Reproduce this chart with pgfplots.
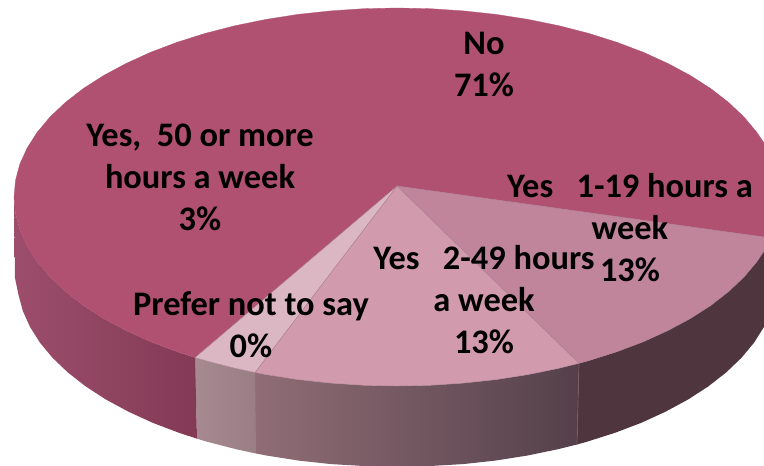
\documentclass[border=0pt]{standalone}
\usepackage{pgfplots}
\pgfplotsset{compat=1.18}
\usepackage{fontspec}
\setmainfont{Carlito}
\definecolor{mainc}{HTML}{B05172}
\definecolor{rightc}{HTML}{C0859A}
\definecolor{midc}{HTML}{D19BAD}
\definecolor{smallc}{HTML}{DBB7C4}
\definecolor{rimc}{HTML}{A97C8E}
\definecolor{wallr}{HTML}{4E353E}
\definecolor{wallma}{HTML}{906D76}
\definecolor{wallmb}{HTML}{54404A}
\definecolor{wallsa}{HTML}{A68991}
\definecolor{wallsb}{HTML}{9A7E85}
\definecolor{wallla}{HTML}{9C4E6B}
\definecolor{walllb}{HTML}{833A55}
\definecolor{sepc}{HTML}{7A5A65}
\tikzset{lab/.style={anchor=base, align=center, font=\fontsize{34.4}{42}\selectfont\bfseries, text=black, inner sep=0pt}}
\begin{document}
\begin{tikzpicture}
\begin{axis}[
  scale only axis, width=764pt, height=466pt,
  xmin=0, xmax=764, ymin=0, ymax=466, y dir=reverse,
  axis lines=none, clip mode=individual,
]
% frame that fixes the picture's extent
\addplot[draw=none, forget plot] coordinates {(0,0)(764,466)};
% side wall: Yes 1-19 hours
\addplot[draw=none, fill=wallr] coordinates {
(764,251)(756.9,261.6)(744.1,276.9)(728.7,291.5)(710.8,305.4)(690.4,318.5)(667.8,330.6)(643.2,341.8)(616.7,351.8)(588.5,360.7)(579,363.3)
(577,444.5)(587,441.7)(615,432.8)(641.3,422.8)(665.7,411.6)(688.1,399.5)(708.3,386.4)(726.1,372.5)(741.4,357.9)(754.1,342.6)(764,326.9)} -- cycle;
% side wall: Yes 2-49 hours
\addplot[draw=none, left color=wallma, right color=wallmb] coordinates {
(579,363.3)(558.9,368.3)(528,374.6)(496.1,379.6)(463.5,383.1)(430.4,385.3)(397,386)(363.6,385.3)(330.5,383.1)(297.9,379.6)(266,374.6)(255,372.5)
(256,453.5)(267,455.6)(298.7,460.6)(331,464.1)(363.9,466)(397,466)(430.1,466)(463,464.1)(495.3,460.6)(527,455.6)(557.6,449.3)(577,444.5)} -- cycle;
% side wall: Prefer not to say
\addplot[draw=none, left color=wallsa, right color=wallsb] coordinates {
(255,372.5)(235.1,368.3)(205.5,360.7)(195,357.6)(197,438.7)(207,441.7)(236.4,449.3)(256,453.5)} -- cycle;
% side wall: No / 50 or more
\addplot[draw=none, left color=wallla, right color=walllb] coordinates {
(195,357.6)(177.3,351.8)(150.8,341.8)(126.2,330.6)(103.6,318.5)(83.2,305.4)(65.3,291.5)(49.9,276.9)(37.1,261.6)(27.1,245.9)(19.8,229.8)(15.5,213.5)(14,197)
(15,278)(18.4,294.5)(22.8,310.8)(30,326.9)(39.9,342.6)(52.6,357.9)(67.9,372.5)(85.7,386.4)(105.9,399.5)(128.3,411.6)(152.7,422.8)(179,432.8)(197,438.7)} -- cycle;
% separator on the wall
\addplot[draw=sepc, line width=0.7pt] coordinates {(579,363.3)(577,444.5)};
% top: No and 50 or more
\addplot[draw=mainc, fill=mainc, line width=0.3pt] coordinates {
(397,186)(764,237)(764,143)(756.9,132.4)(744.1,117.1)(728.7,102.5)(710.8,88.6)(690.4,75.5)(667.8,63.4)(643.2,52.2)(616.7,42.2)(588.5,33.3)(558.9,25.7)(528,19.4)(496.1,14.4)(463.5,10.9)(430.4,8.7)(397,8)(363.6,8.7)(330.5,10.9)(297.9,14.4)(266,19.4)(235.1,25.7)(205.5,33.3)(177.3,42.2)(150.8,52.2)(126.2,63.4)(103.6,75.5)(83.2,88.6)(65.3,102.5)(49.9,117.1)(37.1,132.4)(27.1,148.1)(19.8,164.2)(15.5,180.5)(14,197)(15.5,213.5)(19.8,229.8)(27.1,245.9)(37.1,261.6)(49.9,276.9)(65.3,291.5)(83.2,305.4)(103.6,318.5)(126.2,330.6)(150.8,341.8)(177.3,351.8)(195,357.6)} -- cycle;
% top: Yes 1-19 hours
\addplot[draw=rimc, fill=rightc, line width=0.4pt] coordinates {
(397,186)(764,237)(764,251)(756.9,261.6)(744.1,276.9)(728.7,291.5)(710.8,305.4)(690.4,318.5)(667.8,330.6)(643.2,341.8)(616.7,351.8)(588.5,360.7)(579,363.3)} -- cycle;
% top: Yes 2-49 hours
\addplot[draw=rimc, fill=midc, line width=0.4pt] coordinates {
(397,186)(579,363.3)(558.9,368.3)(528,374.6)(496.1,379.6)(463.5,383.1)(430.4,385.3)(397,386)(363.6,385.3)(330.5,383.1)(297.9,379.6)(266,374.6)(255,372.5)} -- cycle;
% top: Prefer not to say
\addplot[draw=rimc, fill=smallc, line width=0.4pt] coordinates {
(397,186)(255,372.5)(235.1,368.3)(205.5,360.7)(195,357.6)} -- cycle;
\node[lab] at (axis cs:484,96) {No\\71\%};
\node[lab] at (axis cs:200,230) {Yes,\ \ 50 or more\\hours a week\\3\%};
\node[lab] at (axis cs:630,281) {Yes\ \ \ 1-19 hours a\\week\\13\%};
\node[lab] at (axis cs:484,353) {Yes\ \ \ 2-49 hours\\a week\\13\%};
\node[lab] at (axis cs:251,357) {Prefer not to say\\0\%};
\end{axis}
\end{tikzpicture}
\end{document}
